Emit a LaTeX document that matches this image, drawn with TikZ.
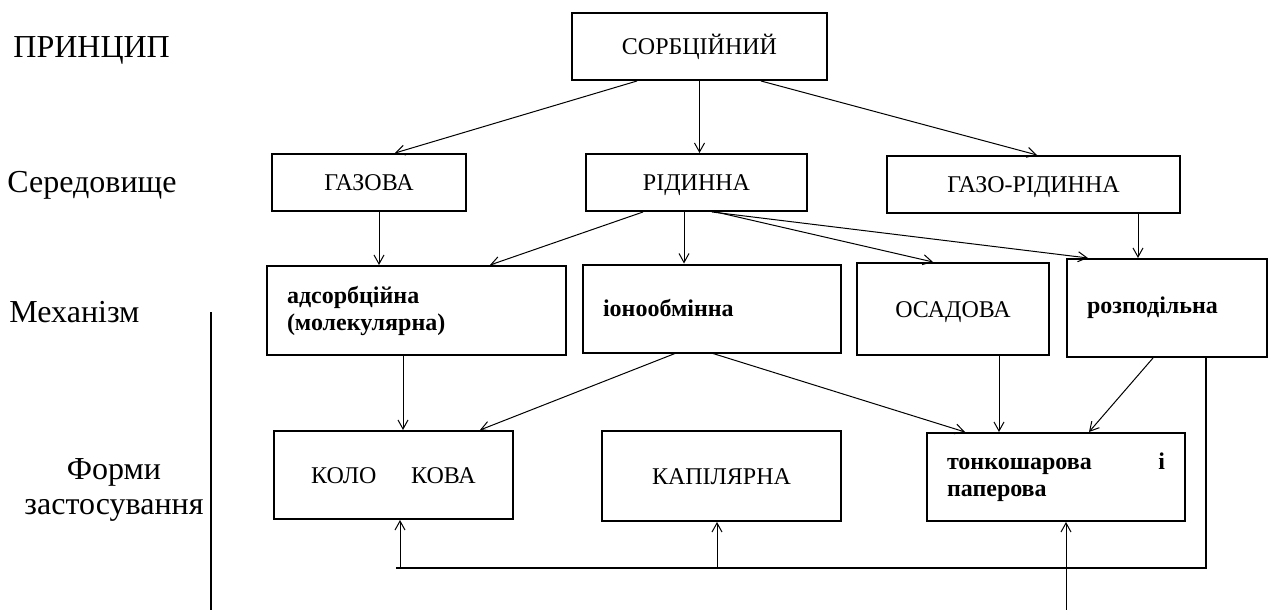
\documentclass[tikz,border=0pt]{standalone}
\usepackage{fontspec}
\setmainfont{Liberation Serif}
\usetikzlibrary{arrows.meta,calc}

\begin{document}
\begin{tikzpicture}[x=0.5pt,y=-0.5pt,>={Straight Barb[length=4.5pt,width=5pt]},
  ramka/.style={draw,line width=1pt,inner sep=0pt},
  blok/.style={ramka,font=\fontsize{12}{13}\selectfont,text height=8pt,text depth=0pt},
  blokL/.style={ramka,font=\fontsize{12}{13.5}\selectfont\bfseries,align=left,inner xsep=10pt},
  mitka/.style={inner sep=0pt,font=\fontsize{16}{17.5}\selectfont},
  strilka/.style={->,line width=0.5pt}]
  \useasboundingbox (0,0) rectangle (1270,610);
  \node[mitka,anchor=base west] (princ) at (13,58) {ПРИНЦИП};
  \node[mitka,anchor=base west] (sered) at (7,192) {Середовище};
  \node[mitka,anchor=base west] (mekh) at (9,322) {Механізм};
  \node[mitka,anchor=north,align=center] (formy) at (114,458) {Форми\\застосування};
  \node[blok,minimum width=127.5pt,minimum height=33.5pt] (sorb) at (699.5,46.5) {СОРБЦІЙНИЙ};
  \node[blok,minimum width=97pt,minimum height=28.5pt] (gaz) at (369,182.5) {ГАЗОВА};
  \node[blok,minimum width=110.5pt,minimum height=28.5pt] (rid) at (696.5,182.5) {РІДИННА};
  \node[blok,minimum width=146.5pt,minimum height=28.5pt] (gazrid) at (1033.5,184.5) {ГАЗО-РІДИННА};
  \node[blokL,text width=129.5pt,minimum height=44.5pt] (ads) at (416.5,310.5) {адсорбційна\\(молекулярна)};
  \node[blokL,text width=109pt,minimum height=44pt] (ion) at (712,308.5) {іонообмінна};
  \node[blok,minimum width=96pt,minimum height=46pt] (osad) at (953,309) {ОСАДОВА};
  \node[blokL,text width=80pt,minimum height=49pt] (rozp) at (1167,308) {розподільна};
  \node[blok,minimum width=119.5pt,minimum height=44pt] (kol) at (393.5,475) {КОЛО\hspace{1.45em}КОВА};
  \node[blok,minimum width=119.5pt,minimum height=45pt] (kap) at (721.5,476) {КАПІЛЯРНА};
  \node[blokL,text width=109pt,minimum height=44pt] (tonk) at (1056,477) {тонкошарова\hfill і\\паперова};
  \draw[strilka] ($(sorb.south)+(-62.5,0)$) -- ($(gaz.north)+(26,0)$);
  \draw[strilka] (sorb.south) -- (sorb.south |- rid.north);
  \draw[strilka] ($(sorb.south)+(61.5,0)$) -- ($(gazrid.north)+(3.5,0)$);
  \draw[strilka] ($(gaz.south)+(10,0)$) -- ($(ads.north)+(-37.5,0)$);
  \draw[strilka] ($(rid.south)+(-12.5,0)$) -- ($(ion.north)+(-28,0)$);
  \draw[strilka] ($(rid.south)+(-53.5,0)$) -- ($(ads.north)+(73.5,0)$);
  \draw[strilka] ($(rid.south)+(19.5,0)$) -- ($(osad.north)+(-20,0)$);
  \draw[strilka] ($(rid.south)+(15.5,0)$) -- ($(rozp.north)+(-79,0)$);
  \draw[strilka] ($(gazrid.south)+(104.5,0)$) -- ($(rozp.north)+(-29,0)$);
  \draw[strilka] ($(ads.south)+(-13.5,0)$) -- ($(kol.north)+(9.5,0)$);
  \draw[strilka] ($(ion.south)+(-37,0)$) -- ($(kol.north)+(86.5,0)$);
  \draw[strilka] ($(ion.south)+(1,0)$) -- ($(tonk.north)+(-91,0)$);
  \draw[strilka] ($(osad.south)+(46,0)$) -- ($(tonk.north)+(-57,0)$);
  \draw[strilka] ($(rozp.south)+(-14,0)$) -- ($(tonk.north)+(33,0)$);
  \coordinate (shynaR) at (1206,568);
  \coordinate (shynaL) at (396,568);
  \draw[line width=1.2pt] (rozp.south -| shynaR) -- (shynaR) -- (shynaL);
  \coordinate (v1) at (400,568);
  \coordinate (v2) at (717,568);
  \coordinate (v3) at (1066,610);
  \draw[strilka] (v1) -- (v1 |- kol.south);
  \draw[strilka] (v2) -- (v2 |- kap.south);
  \draw[strilka] (v3) -- (v3 |- tonk.south);
  \coordinate (lv1) at (211,312);
  \coordinate (lv2) at (211,610);
  \draw[line width=0.7pt] (lv1) -- (lv2);
\end{tikzpicture}
\end{document}
